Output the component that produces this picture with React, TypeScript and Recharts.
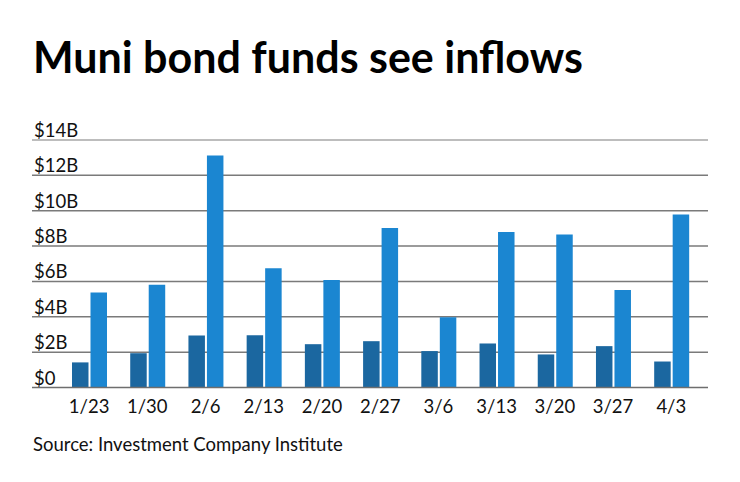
import React from "react";
import {
  BarChart,
  Bar,
  XAxis,
  YAxis,
  CartesianGrid,
  ReferenceLine,
} from "recharts";

const weeks = ["1/23", "1/30", "2/6", "2/13", "2/20", "2/27", "3/6", "3/13", "3/20", "3/27", "4/3"];
const darkSeries = [1.42, 1.94, 2.94, 2.96, 2.45, 2.62, 2.06, 2.49, 1.87, 2.34, 1.47];
const lightSeries = [5.38, 5.81, 13.13, 6.74, 6.08, 9.02, 3.98, 8.79, 8.66, 5.51, 9.79];
const yTicks = [0, 2, 4, 6, 8, 10, 12, 14];

const data = weeks.map((week, i) => ({
  week,
  dark: darkSeries[i],
  light: lightSeries[i],
}));

const FONT = "Lato, 'Noto Sans', sans-serif";

// labels sit just above their gridline, left-aligned
const renderYTick = (props: any) => {
  const { y, payload } = props;
  return (
    <text x={34} y={y - 3} textAnchor="start" fill="#111" fontSize={18.5} fontFamily={FONT}>
      {"$" + payload.value + (payload.value === 0 ? "" : "B")}
    </text>
  );
};

export default function App() {
  return (
    <div
      style={{
        position: "absolute",
        left: 0,
        top: 0,
        width: 740,
        height: 482,
        background: "#fff",
        fontFamily: FONT,
      }}
    >
      <div
        style={{
          position: "absolute",
          left: 33,
          top: 32,
          fontSize: 43,
          fontWeight: 700,
          lineHeight: "50px",
          color: "#000",
          whiteSpace: "nowrap",
        }}
      >
        Muni bond funds see inflows
      </div>
      <BarChart
        width={740}
        height={482}
        data={data}
        margin={{ top: 140, right: 32, left: 31, bottom: 64.5 }}
        barSize={16.5}
        barGap={2}
      >
        <CartesianGrid
          vertical={false}
          stroke="#7a7a7a"
          strokeWidth={1.5}
          horizontalValues={[2, 4, 6, 8, 10, 12]}
        />
        <ReferenceLine y={14} stroke="#bdbdbd" strokeWidth={2} />
        <XAxis
          dataKey="week"
          height={30}
          padding={{ left: 28, right: 7.6 }}
          axisLine={{ stroke: "#6e6e6e", strokeWidth: 1.5 }}
          tickLine={false}
          tickSize={0}
          tickMargin={12}
          interval={0}
          tick={{ fill: "#111", fontSize: 18.5, fontFamily: FONT }}
        />
        <YAxis
          width={1}
          domain={[0, 14]}
          ticks={yTicks}
          interval={0}
          axisLine={false}
          tickLine={false}
          tick={renderYTick}
        />
        <Bar dataKey="dark" fill="#1b67a0" isAnimationActive={false} />
        <Bar dataKey="light" fill="#1b86d1" isAnimationActive={false} />
      </BarChart>
      <div
        style={{
          position: "absolute",
          left: 33,
          top: 433,
          fontSize: 18.5,
          lineHeight: "22px",
          color: "#111",
          whiteSpace: "nowrap",
        }}
      >
        Source: Investment Company Institute
      </div>
    </div>
  );
}
